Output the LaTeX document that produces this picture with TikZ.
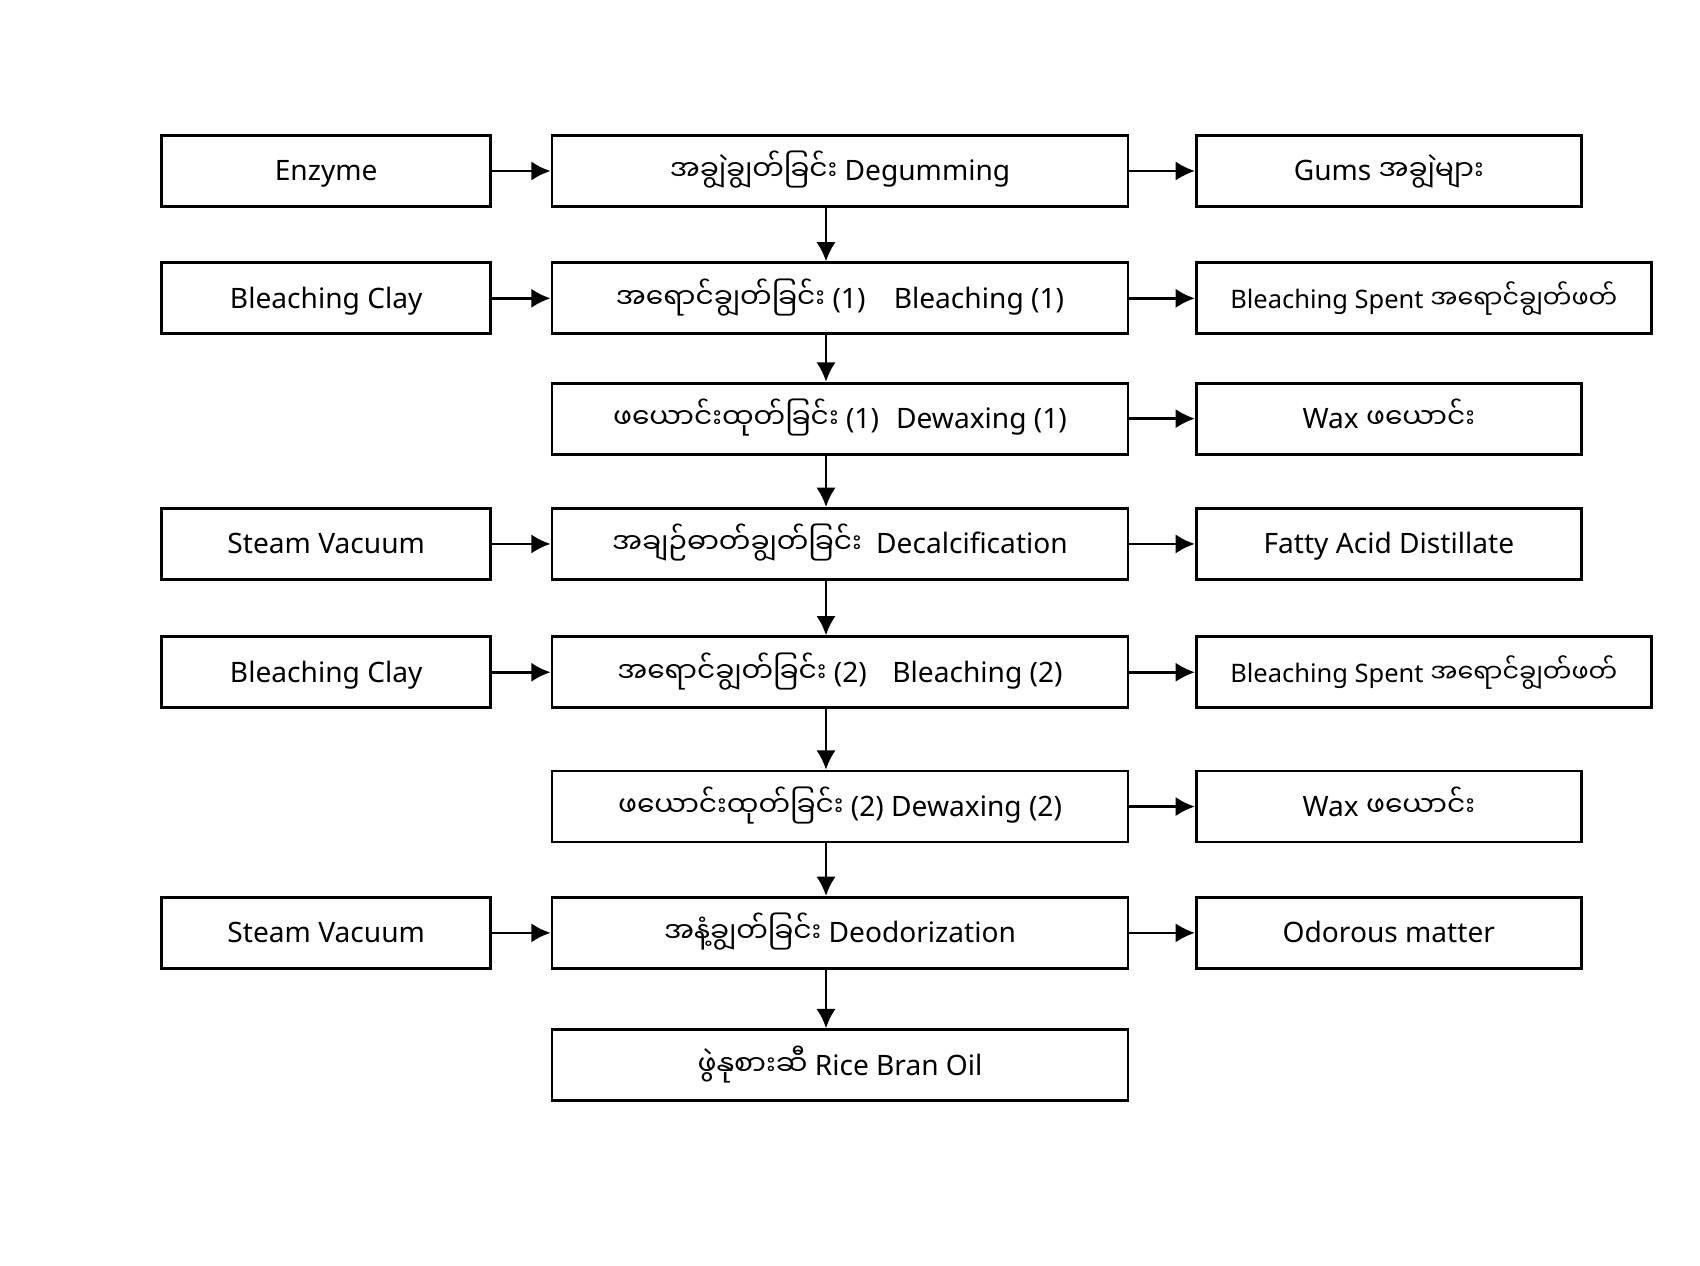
\documentclass[tikz,border=0pt]{standalone}
\usepackage{fontspec}
\setmainfont{Noto Sans}
\newfontfamily\mymrfont[Script=Myanmar]{Noto Sans Myanmar UI}
\newcommand{\mymr}[1]{{\mymrfont #1}}
\usetikzlibrary{arrows.meta,positioning}
\tikzset{>={Latex[width=11pt,length=11pt]}}
\tikzset{stage/.style={draw, line width=1.6pt, inner sep=0pt,
    minimum width=11.52cm, minimum height=1.42cm,
    text height=0.5cm, text depth=0.1cm,
    font=\fontsize{16}{19}\selectfont}}
\tikzset{feed/.style={stage, minimum width=6.58cm}}
\tikzset{waste/.style={stage, minimum width=7.7cm}}
\tikzset{wastewide/.style={stage, minimum width=9.1cm,
    font=\fontsize{14.5}{17}\selectfont}}
\tikzset{flow/.style={->, draw=black, line width=1.5pt}}

\begin{document}
\begin{tikzpicture}
    \useasboundingbox (0,0) rectangle (34,-25.32);
    % main line
    \node[stage] (deg) at (16.8,-3.42)   {\mymr{အချွဲချွတ်ခြင်း} Degumming};
    \node[stage] (bl1) [below=1.07cm of deg] {\mymr{အရောင်ချွတ်ခြင်း} (1)\hspace{0.75em} Bleaching (1)};
    \node[stage] (dw1) [below=0.93cm of bl1] {\mymr{ဖယောင်းထုတ်ခြင်း} (1)\hspace{0.35em} Dewaxing (1)};
    \node[stage] (dec) [below=1.03cm of dw1] {\mymr{အချဉ်ဓာတ်ချွတ်ခြင်း}\hspace{0.25em} Decalcification};
    \node[stage] (bl2) [below=1.09cm of dec] {\mymr{အရောင်ချွတ်ခြင်း} (2)\hspace{0.65em} Bleaching (2)};
    \node[stage] (dw2) [below=1.21cm of bl2] {\mymr{ဖယောင်းထုတ်ခြင်း} (2) Dewaxing (2)};
    \node[stage] (deo) [below=1.05cm of dw2] {\mymr{အနံ့ချွတ်ခြင်း} Deodorization};
    \node[stage] (oil) [below=1.17cm of deo] {\mymr{ဖွဲနုစားဆီ} Rice Bran Oil};
    % inputs
    \node[feed] (enz)  [left=1.17cm of deg] {Enzyme};
    \node[feed] (cla1) [left=1.17cm of bl1] {Bleaching Clay};
    \node[feed] (stm1) [left=1.17cm of dec] {Steam Vacuum};
    \node[feed] (cla2) [left=1.17cm of bl2] {Bleaching Clay};
    \node[feed] (stm2) [left=1.17cm of deo] {Steam Vacuum};
    % outputs
    \node[waste]     (gum)  [right=1.31cm of deg] {Gums \mymr{အချွဲများ}};
    \node[wastewide] (spt1) [right=1.31cm of bl1] {Bleaching Spent \mymr{အရောင်ချွတ်ဖတ်}};
    \node[waste]     (wax1) [right=1.31cm of dw1] {Wax \mymr{ဖယောင်း}};
    \node[waste]     (fad)  [right=1.31cm of dec] {Fatty Acid Distillate};
    \node[wastewide] (spt2) [right=1.31cm of bl2] {Bleaching Spent \mymr{အရောင်ချွတ်ဖတ်}};
    \node[waste]     (wax2) [right=1.31cm of dw2] {Wax \mymr{ဖယောင်း}};
    \node[waste]     (odo)  [right=1.31cm of deo] {Odorous matter};

    \draw [flow] ([xshift=-0.28cm]deg.south) to ([xshift=-0.28cm]bl1.north);
    \draw [flow] ([xshift=-0.28cm]bl1.south) to ([xshift=-0.28cm]dw1.north);
    \draw [flow] ([xshift=-0.28cm]dw1.south) to ([xshift=-0.28cm]dec.north);
    \draw [flow] ([xshift=-0.28cm]dec.south) to ([xshift=-0.28cm]bl2.north);
    \draw [flow] ([xshift=-0.28cm]bl2.south) to ([xshift=-0.28cm]dw2.north);
    \draw [flow] ([xshift=-0.28cm]dw2.south) to ([xshift=-0.28cm]deo.north);
    \draw [flow] ([xshift=-0.28cm]deo.south) to ([xshift=-0.28cm]oil.north);

    \draw [flow] (enz)  to (deg);
    \draw [flow] (cla1) to (bl1);
    \draw [flow] (stm1) to (dec);
    \draw [flow] (cla2) to (bl2);
    \draw [flow] (stm2) to (deo);

    \draw [flow] (deg) to (gum);
    \draw [flow] (bl1) to (spt1);
    \draw [flow] (dw1) to (wax1);
    \draw [flow] (dec) to (fad);
    \draw [flow] (bl2) to (spt2);
    \draw [flow] (dw2) to (wax2);
    \draw [flow] (deo) to (odo);
\end{tikzpicture}
\end{document}
